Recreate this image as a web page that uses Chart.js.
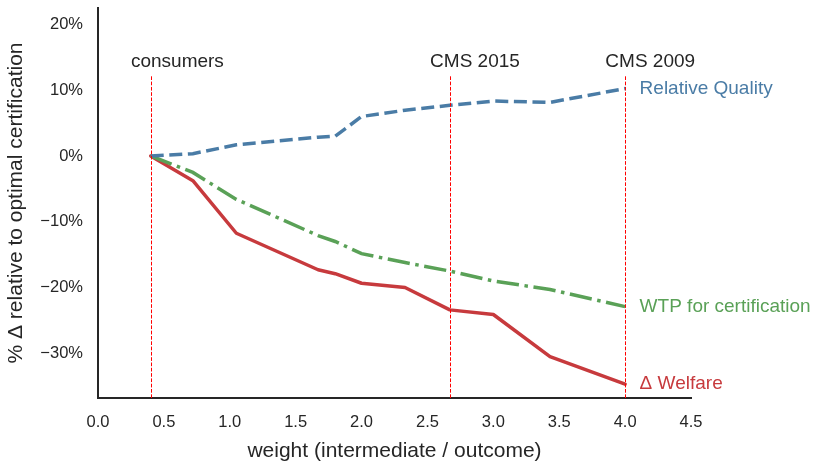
<!DOCTYPE html>
<html>
<head>
<meta charset="utf-8">
<title>Certification weights</title>
<script src="https://cdn.jsdelivr.net/npm/chart.js@4/dist/chart.umd.min.js"></script>
<style>
  html, body { margin: 0; padding: 0; background: #ffffff; }
  #wrap { width: 817px; height: 464px; position: relative; }
</style>
</head>
<body>
<div id="wrap"><canvas id="chart" width="817" height="464"></canvas></div>
<script>
// Weight on intermediate vs. outcome measures
const weights = [0.4, 0.72, 1.05, 1.67, 1.8, 2.0, 2.33, 2.67, 3.0, 3.43, 4.0];

// % change relative to optimal certification
const relativeQuality  = [0, 0.35, 1.7, 2.85, 3.0, 6.0, 6.95, 7.7, 8.35, 8.15, 10.25];
const wtpCertification = [0, -2.5, -6.6, -12.1, -13.0, -14.85, -16.2, -17.5, -19.0, -20.3, -22.9];
const deltaWelfare     = [0, -3.75, -11.75, -17.3, -17.9, -19.35, -20.0, -23.4, -24.1, -30.5, -34.7];

const seriesNames = ['Relative Quality', 'WTP for certification', '\u0394 Welfare'];

// Axis ticks
const xTicks = [0, 0.5, 1.0, 1.5, 2.0, 2.5, 3.0, 3.5, 4.0, 4.5];
const yTicks = [-30, -20, -10, 0, 10, 20];

// Reference weights marked with vertical lines
const policyWeights = [0.4, 2.67, 4.0];
const policyNames = ['consumers', 'CMS 2015', 'CMS 2009'];

const FONT = '"Liberation Sans", Arial, Helvetica, sans-serif';
const INK = '#262626';
const BLUE = '#4a7ca6';
const GREEN = '#5aa157';
const RED = '#c73a3d';

const toPoints = ys => weights.map((w, i) => ({ x: w, y: ys[i] }));

const annotate = {
  id: 'annotate',
  afterDatasetsDraw(chart) {
    const { ctx, chartArea, scales: { x, y } } = chart;
    ctx.save();
    // dashed reference lines and their labels
    ctx.strokeStyle = '#ff0000';
    ctx.lineWidth = 1;
    ctx.setLineDash([3.7, 1.6]);
    const lineTop = y.getPixelForValue(12.2);
    ctx.font = '19px ' + FONT;
    ctx.fillStyle = INK;
    ctx.textBaseline = 'middle';
    ctx.textAlign = 'left';
    policyWeights.forEach((w, i) => {
      const px = Math.round(x.getPixelForValue(w)) + 0.5;
      ctx.beginPath();
      ctx.moveTo(px, chartArea.bottom);
      ctx.lineTo(px, lineTop);
      ctx.stroke();
      ctx.fillText(policyNames[i], x.getPixelForValue(w - 0.15), y.getPixelForValue(14.3));
    });
    ctx.setLineDash([]);
    // series names at the end of each line
    const ends = [relativeQuality, wtpCertification, deltaWelfare];
    const colors = [BLUE, GREEN, RED];
    ends.forEach((ys, i) => {
      ctx.fillStyle = colors[i];
      ctx.fillText(seriesNames[i], x.getPixelForValue(4.11), y.getPixelForValue(ys[ys.length - 1]));
    });
    ctx.restore();
  }
};

new Chart(document.getElementById('chart'), {
  type: 'line',
  data: {
    datasets: [
      {
        label: seriesNames[0],
        data: toPoints(relativeQuality),
        borderColor: BLUE,
        borderWidth: 3.5,
        borderDash: [13, 5.6],
        borderCapStyle: 'butt',
        pointRadius: 0,
        tension: 0
      },
      {
        label: seriesNames[1],
        data: toPoints(wtpCertification),
        borderColor: GREEN,
        borderWidth: 3.5,
        borderDash: [22.4, 5.6, 3.5, 5.6],
        borderCapStyle: 'butt',
        pointRadius: 0,
        tension: 0
      },
      {
        label: seriesNames[2],
        data: toPoints(deltaWelfare),
        borderColor: RED,
        borderWidth: 3.5,
        borderCapStyle: 'round',
        borderJoinStyle: 'round',
        pointRadius: 0,
        tension: 0
      }
    ]
  },
  options: {
    responsive: false,
    animation: false,
    devicePixelRatio: 1,
    layout: { padding: { left: 0, right: 126, top: 8, bottom: 0 } },
    plugins: {
      legend: { display: false },
      tooltip: { enabled: false }
    },
    scales: {
      x: {
        type: 'linear',
        min: 0,
        max: 4.5,
        afterFit(scale) {
          scale.height = 66;
          scale.paddingLeft = 0;
          scale.paddingRight = 0;
        },
        afterBuildTicks(scale) { scale.ticks = xTicks.map(v => ({ value: v })); },
        grid: { display: false, drawTicks: false },
        border: { display: true, color: INK, width: 2 },
        ticks: {
          padding: 15,
          color: INK,
          font: { family: FONT, size: 16.5 },
          maxRotation: 0,
          callback: v => Number(v).toFixed(1)
        },
        title: {
          display: true,
          text: 'weight (intermediate / outcome)',
          color: INK,
          font: { family: FONT, size: 21 },
          padding: { top: 0, bottom: 0 }
        }
      },
      y: {
        type: 'linear',
        min: -36.8,
        max: 22.5,
        afterFit(scale) {
          scale.width = 98;
          scale.paddingTop = 0;
          scale.paddingBottom = 0;
        },
        afterBuildTicks(scale) { scale.ticks = yTicks.map(v => ({ value: v })); },
        grid: { display: false, drawTicks: false },
        border: { display: true, color: INK, width: 2 },
        ticks: {
          padding: 15,
          color: INK,
          font: { family: FONT, size: 16.5 },
          callback: v => (v < 0 ? '\u2212' + Math.abs(v) : String(v)) + '%'
        },
        title: {
          display: true,
          text: '% \u0394 relative to optimal certification',
          color: INK,
          font: { family: FONT, size: 21 },
          padding: { top: 3.4, bottom: 0 }
        }
      }
    }
  },
  plugins: [annotate]
});
</script>
</body>
</html>
